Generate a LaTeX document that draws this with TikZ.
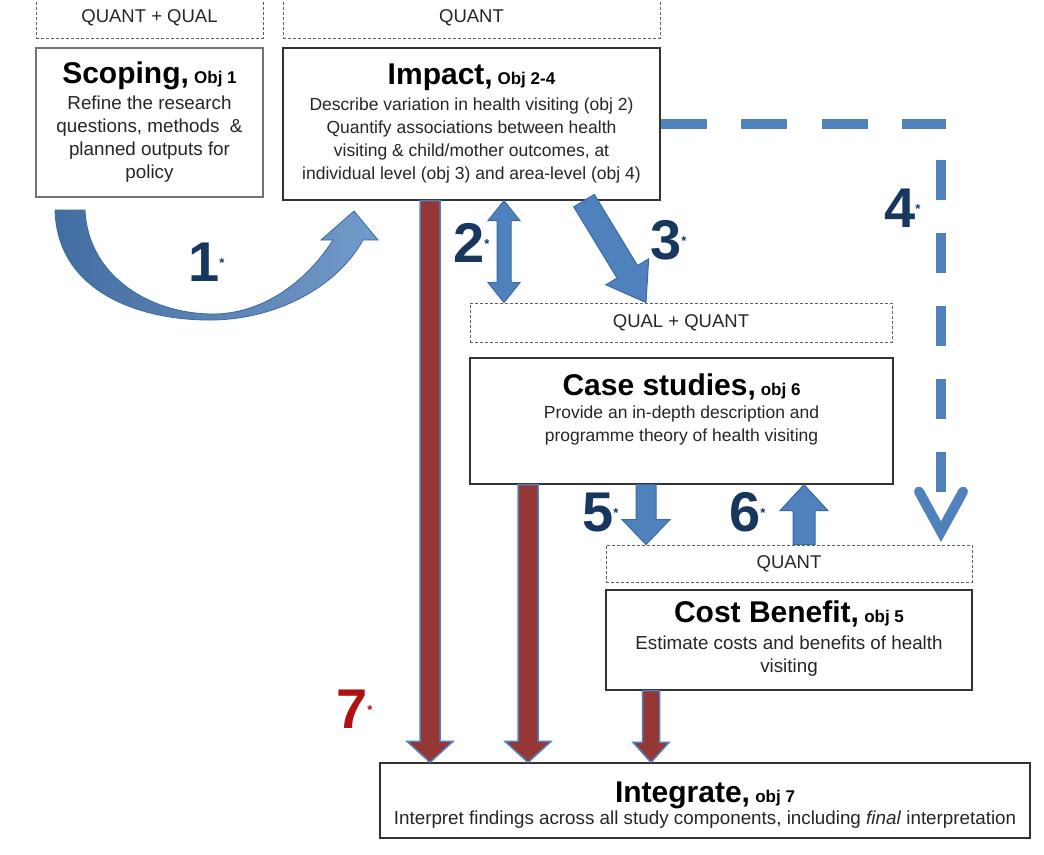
\documentclass[tikz,border=0pt]{standalone}
\usepackage{fontspec}
\setmainfont{Liberation Sans}
\usetikzlibrary{arrows.meta,calc}
\definecolor{bfill}{HTML}{4F81BD}
\definecolor{bline}{HTML}{3A6AA5}
\definecolor{rfill}{HTML}{953735}
\definecolor{navy}{HTML}{17375E}
\definecolor{redseven}{HTML}{B01010}
\definecolor{txt}{HTML}{262626}
\definecolor{hdrline}{HTML}{606060}

% block arrow: #1 start, #2 tip, #3 half shaft, #4 half head, #5 head length, #6 style
\newcommand{\myblockarrow}[6]{%
  \coordinate (bh) at ($(#2)!#5!(#1)$);
  \path[#6] ($(#1)!#3!90:(#2)$) -- ($(bh)!#3!90:(#2)$) -- ($(bh)!#4!90:(#2)$) -- (#2)
    -- ($(bh)!#4!-90:(#2)$) -- ($(bh)!#3!-90:(#2)$) -- ($(#1)!#3!-90:(#2)$) -- cycle;}
% double block arrow
\newcommand{\mydoublearrow}[6]{%
  \coordinate (dh1) at ($(#1)!#5!(#2)$);
  \coordinate (dh2) at ($(#2)!#5!(#1)$);
  \path[#6] (#1) -- ($(dh1)!#4!90:(#2)$) -- ($(dh1)!#3!90:(#2)$) -- ($(dh2)!#3!-90:(#1)$)
    -- ($(dh2)!#4!-90:(#1)$) -- (#2) -- ($(dh2)!#4!90:(#1)$) -- ($(dh2)!#3!90:(#1)$)
    -- ($(dh1)!#3!-90:(#2)$) -- ($(dh1)!#4!-90:(#2)$) -- cycle;}

\newcommand{\myttl}[2]{{\fontsize{30}{23}\selectfont\bfseries\color{black}#1} {\fontsize{17}{23}\selectfont\bfseries\color{black}#2}}
\newcommand{\mystar}{\raisebox{14pt}{\fontsize{13}{13}\selectfont *}}

\begin{document}
\begin{tikzpicture}[x=1pt,y=-1pt,
  hdr/.style={draw=hdrline, dash pattern=on 3pt off 2pt, line width=0.9pt, text=txt,
    font=\fontsize{18.5}{20}\selectfont, inner sep=0pt},
  box/.style={draw=black!80, line width=1.3pt, fill=white, inner sep=0pt},
  boxtext/.style={text=txt, font=\fontsize{17.5}{23}\selectfont, align=center, inner sep=0pt, anchor=north},
  bigtext/.style={boxtext, font=\fontsize{18.8}{23}\selectfont},
  num/.style={text=navy, font=\fontsize{56}{56}\selectfont\bfseries, inner sep=0pt, anchor=base west},
  redarrow/.style={fill=rfill, draw=bfill, line width=1.5pt},
  bluearrow/.style={fill=bfill, draw=bline, line width=1pt},
  dashfourh/.style={draw=bfill, line width=10pt, dash pattern=on 46pt off 34.5pt},
  dashfourv/.style={draw=bfill, line width=10pt, dash pattern=on 40pt off 33pt, dash phase=41pt}
]
\useasboundingbox (0,0) rectangle (1044,854);

% header boxes
\node[hdr, minimum width=227pt, minimum height=41pt] (h1) at (149.5,17.5) {QUANT + QUAL};
\node[hdr, minimum width=377pt, minimum height=41pt] (h2) at (471.5,17.5) {QUANT};
\node[hdr, minimum width=422pt, minimum height=39pt] (h3) at (681,322.5) {QUAL + QUANT};
\node[hdr, minimum width=366pt, minimum height=37pt] (h4) at (789,563.5) {QUANT};

% main boxes
\node[box, draw=black!55, minimum width=227pt, minimum height=149pt] (scoping) at (149.5,122.5) {};
\node[box, minimum width=377pt, minimum height=152pt] (impact) at (471.5,124) {};
\node[box, minimum width=423pt, minimum height=126pt] (case) at (681.5,421) {};
\node[box, minimum width=366pt, minimum height=100pt] (cost) at (789,640) {};
\node[box, minimum width=650pt, minimum height=75pt] (integ) at (705,800.5) {};

% box texts
\node[bigtext] (tscoping) at (149.5,62) {\myttl{Scoping,}{Obj 1}\\[3pt]Refine the research\\questions, methods~ \&\\planned outputs for\\policy};
\node[boxtext] (timpact) at (471.5,64) {\myttl{Impact,}{Obj 2-4}\\[3pt]Describe variation in health visiting (obj 2)\\Quantify associations between health\\visiting \& child/mother outcomes, at\\individual level (obj 3) and area-level (obj 4)};
\node[boxtext] (tcase) at (681.5,374) {\myttl{Case studies,}{obj 6}\\[0pt]Provide an in-depth description and\\programme theory of health visiting};
\node[bigtext] (tcost) at (789,601) {\myttl{Cost Benefit,}{obj 5}\\[4pt]Estimate costs and benefits of health\\visiting};
\node[bigtext] (tinteg) at (705,782) {\myttl{Integrate,}{obj 7}\\[-1pt]Interpret findings across all study components, including \textit{final} interpretation};

% x positions
\coordinate (xa) at (430,0);
\coordinate (xb) at (528,0);
\coordinate (xc) at (651,0);
\coordinate (xtwo) at (504,0);
\coordinate (xthreea) at (584,0);
\coordinate (xthreeb) at (646,0);
\coordinate (xfive) at (646,0);
\coordinate (xsix) at (804,0);
\coordinate (yfour) at (0,124);
\coordinate (dfourcorner) at (946,124);
\coordinate (dfourtop) at (941,128);
\coordinate (dfourtip) at (941,542);

% arrow 1 (curved)
\path[draw=bline, line width=0.8pt, left color=bfill!85!black, right color=bfill!80!white]
  (55,210) .. controls (57,292) and (140,321) .. (213,320)
  .. controls (277,319) and (337,287) .. (363,240)
  -- (378,240) -- (354,211) -- (321,240) -- (333,240)
  .. controls (302,288) and (257,314) .. (213,314)
  .. controls (150,314) and (88,276) .. (85,210) -- cycle;

% red arrows (7)
\myblockarrow{impact.south -| xa}{integ.north -| xa}{10pt}{23pt}{21pt}{redarrow}
\myblockarrow{case.south -| xb}{integ.north -| xb}{10pt}{23pt}{21pt}{redarrow}
\myblockarrow{cost.south -| xc}{integ.north -| xc}{8.5pt}{18pt}{20pt}{redarrow}

% blue arrows
\mydoublearrow{impact.south -| xtwo}{h3.north -| xtwo}{7pt}{16pt}{20pt}{bluearrow}
\myblockarrow{impact.south -| xthreea}{h3.north -| xthreeb}{12pt}{25pt}{36pt}{bluearrow}
\myblockarrow{case.south -| xfive}{h4.north -| xfive}{10pt}{24pt}{25pt}{bluearrow}
\myblockarrow{h4.north -| xsix}{case.south -| xsix}{11pt}{24pt}{26pt}{bluearrow}

% dashed arrow 4
\draw[dashfourh] (impact.east |- yfour) -- (dfourcorner);
\draw[dashfourv, -{Straight Barb[length=40pt,width=44pt,line cap=round]}] (dfourtop) -- (dfourtip);

% numbers
\node[num] (n1) at (188,281) {1\mystar};
\node[num] (n2) at (453,262) {2\mystar};
\node[num] (n3) at (650,259) {3\mystar};
\node[num] (n4) at (884,227) {4\mystar};
\node[num] (n5) at (582,531) {5\mystar};
\node[num] (n6) at (729,531) {6\mystar};
\node[num, text=redseven] (n7) at (336,728) {7\mystar};
\end{tikzpicture}
\end{document}
